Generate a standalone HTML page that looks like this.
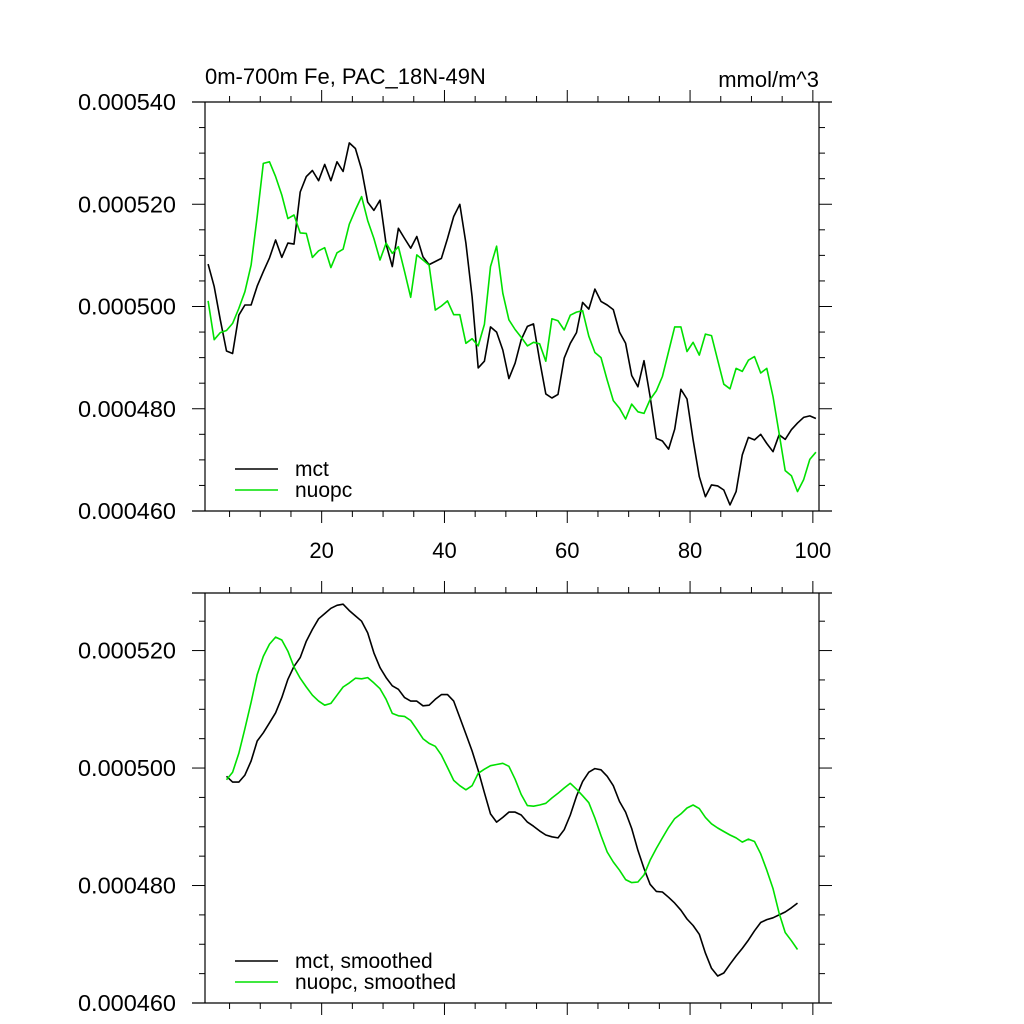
<!DOCTYPE html>
<html><head><meta charset="utf-8"><style>
html,body{margin:0;padding:0;background:#fff;}
svg{display:block;font-family:"Liberation Sans",sans-serif;}
</style></head><body>
<svg id="chart" width="1024" height="1024" viewBox="0 0 1024 1024" xmlns="http://www.w3.org/2000/svg">
<text x="205" y="84" font-size="22">0m-700m Fe, PAC_18N-49N</text>
<text x="819" y="87" font-size="22" text-anchor="end">mmol/m^3</text>
<g id="top"></g>
<g id="bot"></g>
</svg>
<script>
const xValues = [];
for (let k = 0; k < 100; k++) xValues.push(k + 1.5);
const mctRaw = [508.3,503.9,497.4,491.3,490.8,498.3,500.3,500.3,504,506.8,509.5,513,509.6,512.4,512.2,522.4,525.4,526.6,524.6,527.8,524.6,528.3,526.4,532,530.9,526.8,520.4,518.8,520.8,512.2,507.8,515.3,513.3,511.4,513.7,509.7,508.2,508.8,509.4,513.3,517.6,520,512.4,501.9,488,489.3,496,495,491.5,485.9,488.9,493.5,496.1,496.6,489.5,482.9,482.1,482.8,489.9,492.8,494.9,500.8,499.5,503.4,501,500.3,499.4,495,492.8,486.5,484.3,489.4,482.4,474.2,473.7,472.1,476,483.8,481.9,473.9,466.7,462.8,465.1,464.9,464.1,461.2,463.8,471,474.4,473.9,475,473.2,471.6,474.9,474,475.9,477.2,478.3,478.6,478.1];
const nuopcRaw = [501.1,493.5,494.9,495.3,496.7,499.6,502.9,508.1,517.6,528,528.3,525.4,521.8,517.2,517.9,514.4,514.3,509.6,510.9,511.5,507.6,510.5,511.2,516.1,518.9,521.5,516.8,513.3,509.1,512.4,510.4,511.7,506.8,501.8,510.1,509.1,508.1,499.3,500.1,501.1,498.4,498.4,492.8,493.7,492.3,496.5,507.8,511.8,502.6,497.4,495.5,494,492.3,493,492.7,489.3,497.6,497.2,495.4,498.3,498.9,499.2,494.2,491,490,485.6,481.6,480.1,478,480.9,479.4,479.1,481.8,483.5,486.3,491.2,496,496,491.2,493,490.5,494.6,494.3,489.5,484.8,483.9,487.9,487.3,489.5,490.2,487,487.9,482.4,475.2,467.9,466.9,463.8,466.1,470.1,471.5];
const smoothStart = 3;
const mctSmooth = [498.6,497.6,497.6,498.8,501.2,504.6,506,507.7,509.4,512,515.1,517.3,518.8,521.6,523.6,525.4,526.3,527.2,527.7,527.9,526.8,525.9,525,523,519.6,517.1,515.4,514,513.4,512,511.4,511.4,510.6,510.7,511.7,512.5,512.5,511.4,508.6,505.8,502.9,499.6,495.8,492.2,490.8,491.6,492.5,492.5,492,490.8,490.1,489.3,488.6,488.3,488.1,489.5,492,495.2,497.7,499.3,499.9,499.7,498.6,497,494.3,492.5,489.7,486,482.9,480.2,479,478.9,478,477,475.8,474.3,473.2,471.7,468.5,465.9,464.6,465.1,466.6,468,469.3,470.7,472.3,473.7,474.2,474.5,475,475.5,476.2,477];
const nuopcSmooth = [498,499.3,502.5,506.7,511.2,515.9,519,521.1,522.3,521.8,519.9,517.2,515.3,513.8,512.4,511.4,510.7,511,512.4,513.8,514.5,515.3,515.2,515.4,514.5,513.5,511.7,509.3,508.9,508.8,508.1,506.6,505,504.2,503.7,502.2,500.1,497.9,497,496.3,497,499.1,499.8,500.4,500.6,500.8,500.3,498.1,495.5,493.6,493.5,493.7,494,494.9,495.7,496.6,497.4,496.4,495.3,494.1,491.5,488.5,485.7,484,482.6,481,480.5,480.6,481.8,484.3,486.3,488.1,489.9,491.4,492.2,493.2,493.7,493.1,491.6,490.5,489.8,489.2,488.6,488.1,487.4,487.9,487.5,485.4,482.6,479.5,475.3,472,470.6,469.1];
const xTickLabels = ["20","40","60","80","100"];
const topYTicks = ["0.000460","0.000480","0.000500","0.000520","0.000540"];
const botYTicks = ["0.000460","0.000480","0.000500","0.000520"];

const NS = "http://www.w3.org/2000/svg";
function mk(parent, tag, attrs){ const e=document.createElementNS(NS,tag); for(const k in attrs) e.setAttribute(k,attrs[k]); parent.appendChild(e); return e; }
const X0 = 205, X1 = 819;
const xs = v => X0 + (v - 1) * (X1 - X0) / 100;

function panel(g, top, bottom, ymin, ymax, yLabels, showXLabels, series, legend){
  const ys = v => bottom - (v - ymin) * (bottom - top) / (ymax - ymin);
  for (const yy of [top, bottom]) {
    const l = mk(g,'line',{x1:192,x2:832,y1:yy,y2:yy,stroke:'#000','stroke-width':1.2});
    
    
  }
  for (const xx of [X0, X1]) {
    const l = mk(g,'line',{x1:xx,x2:xx,y1:top,y2:bottom,stroke:'#000','stroke-width':1.2});
    
    
  }
  for (let v = 5; v <= 100; v += 5) {
    const major = v % 20 === 0, len = major ? 12 : 6, px = xs(v);
    const t1 = mk(g,'line',{x1:px,x2:px,y1:bottom,y2:bottom+len,stroke:'#000','stroke-width':1});
    
    
    const t2 = mk(g,'line',{x1:px,x2:px,y1:top,y2:top-len,stroke:'#000','stroke-width':1});
    
    
  }
  if (showXLabels) {
    xTickLabels.forEach(s => {
      const t = mk(g,'text',{x:xs(+s),y:bottom+47,'font-size':22,'text-anchor':'middle'});
      t.textContent = s;
      
      
    });
  }
  for (let v = 460; v <= ymax + 0.01; v += 5) {
    const major = v % 20 === 0, len = major ? 13 : 6, py = ys(v);
    const a = mk(g,'line',{x1:X0,x2:X0-len,y1:py,y2:py,stroke:'#000','stroke-width':1});
    
    
    const b = mk(g,'line',{x1:X1,x2:X1+len,y1:py,y2:py,stroke:'#000','stroke-width':1});
    
    
  }
  yLabels.forEach(s => {
    const t = mk(g,'text',{x:176,y:ys(parseFloat(s)*1e6)+8,'font-size':23.5,'text-anchor':'end'});
    t.textContent = s;
    
    
  });
  series.forEach(sr => {
    const pts = sr.vals.map((v,i) => xs(xValues[i+sr.start]).toFixed(1)+','+ys(v).toFixed(1)).join(' ');
    const p = mk(g,'polyline',{points:pts,fill:'none',stroke:sr.color,'stroke-width':1.6,'stroke-linejoin':'round'});
    
    
  });
  legend.forEach(lg => {
    const yy = lg.y;
    const l = mk(g,'line',{x1:235,x2:278,y1:yy,y2:yy,stroke:lg.color,'stroke-width':1.6});
    
    
    const t = mk(g,'text',{x:295,y:yy+7,'font-size':21});
    t.textContent = lg.label;
    
    
  });
}
const G = '#00e000';
panel(document.getElementById('top'), 102, 511, 460, 540, topYTicks, true,
  [{vals:mctRaw,start:0,color:'#000',name:'mct-line'},{vals:nuopcRaw,start:0,color:G,name:'nuopc-line'}],
  [{label:'mct',color:'#000',y:469},{label:'nuopc',color:G,y:490}]);
panel(document.getElementById('bot'), 593, 1003, 460, 529.8, botYTicks, false,
  [{vals:mctSmooth,start:smoothStart,color:'#000',name:'mct-smoothed-line'},{vals:nuopcSmooth,start:smoothStart,color:G,name:'nuopc-smoothed-line'}],
  [{label:'mct, smoothed',color:'#000',y:961},{label:'nuopc, smoothed',color:G,y:982}]);
</script>
</body></html>
